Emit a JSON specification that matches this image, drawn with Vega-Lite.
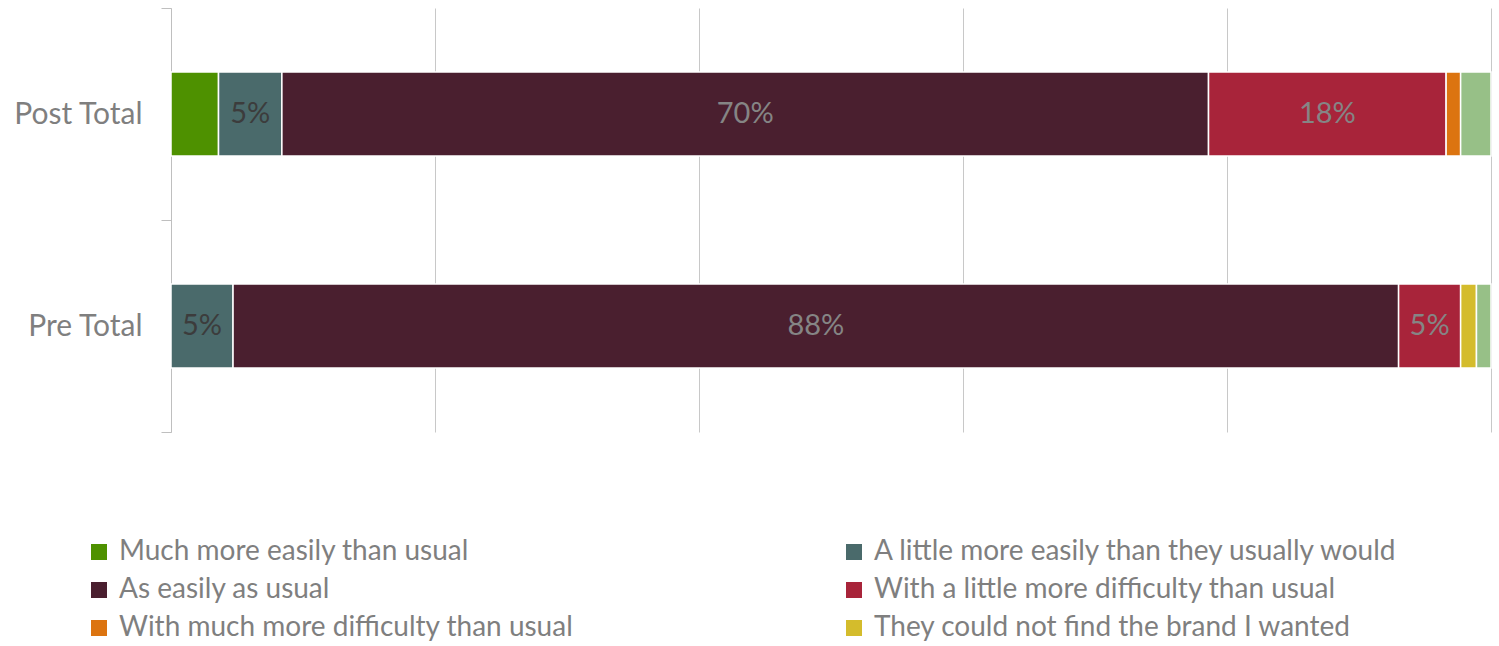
{
  "$schema": "https://vega.github.io/schema/vega-lite/v6.json",
  "width": 1320,
  "height": 424,
  "autosize": {"type": "none"},
  "padding": {"left": 171, "top": 8, "right": 8, "bottom": 214},
  "background": "white",
  "config": {"view": {"stroke": null}, "font": "Lato"},
  "data": {
    "values": [
      {"g": "Post Total", "c": "Much more easily than usual", "k": 1, "v": 0.036},
      {"g": "Post Total", "c": "A little more easily than they usually would", "k": 2, "v": 0.048},
      {"g": "Post Total", "c": "As easily as usual", "k": 3, "v": 0.702},
      {"g": "Post Total", "c": "With a little more difficulty than usual", "k": 4, "v": 0.180},
      {"g": "Post Total", "c": "With much more difficulty than usual", "k": 5, "v": 0.011},
      {"g": "Post Total", "c": "Other", "k": 7, "v": 0.023},
      {"g": "Pre Total", "c": "A little more easily than they usually would", "k": 2, "v": 0.047},
      {"g": "Pre Total", "c": "As easily as usual", "k": 3, "v": 0.883},
      {"g": "Pre Total", "c": "With a little more difficulty than usual", "k": 4, "v": 0.047},
      {"g": "Pre Total", "c": "They could not find the brand I wanted", "k": 6, "v": 0.012},
      {"g": "Pre Total", "c": "Other", "k": 7, "v": 0.011}
    ]
  },
  "encoding": {
    "y": {
      "field": "g", "type": "nominal", "title": null,
      "sort": ["Post Total", "Pre Total"],
      "scale": {"paddingInner": 0, "paddingOuter": 0},
      "axis": {
        "tickBand": "extent", "domainColor": "#bfbfbf", "tickColor": "#bfbfbf",
        "tickSize": 10, "labelPadding": 19, "labelFontSize": 30, "labelColor": "#7f7f7f",
        "labelFont": "Lato", "grid": false
      }
    },
    "x": {
      "field": "v", "type": "quantitative", "stack": "zero",
      "scale": {"domain": [0, 1]},
      "axis": {"values": [0, 0.2, 0.4, 0.6, 0.8, 1], "grid": true, "gridColor": "#c8c8c8",
        "domain": false, "ticks": false, "labels": false, "title": null}
    },
    "order": {"field": "k", "type": "quantitative"}
  },
  "layer": [
    {
      "mark": {"type": "bar", "stroke": "white", "strokeWidth": 1.5, "height": {"band": 0.396}},
      "encoding": {
        "color": {
          "field": "c", "type": "nominal",
          "scale": {
            "domain": ["Much more easily than usual", "A little more easily than they usually would", "As easily as usual", "With a little more difficulty than usual", "With much more difficulty than usual", "They could not find the brand I wanted", "Other"],
            "range": ["#4e9100", "#4a6a6b", "#4a1f2f", "#a8243a", "#dc7410", "#d4bc2c", "#97c087"]
          },
          "legend": {
            "title": null, "orient": "none", "legendX": -86, "legendY": 530,
            "columns": 2, "columnPadding": 266, "rowPadding": 10,
            "values": ["Much more easily than usual", "As easily as usual", "With much more difficulty than usual", "A little more easily than they usually would", "With a little more difficulty than usual", "They could not find the brand I wanted"],
            "symbolType": "square", "symbolSize": 256, "symbolStrokeWidth": 0,
            "labelFontSize": 28, "labelColor": "#7f7f7f", "labelFont": "Lato",
            "labelOffset": 6, "labelLimit": 800
          }
        }
      }
    },
    {
      "mark": {"type": "text", "fontSize": 29, "font": "Lato"},
      "encoding": {
        "x": {"field": "v", "type": "quantitative", "stack": "zero", "bandPosition": 0.5},
        "text": {
          "condition": {"test": "datum.v < 0.045", "value": ""},
          "field": "v", "type": "quantitative", "format": ".0%"
        },
        "color": {
          "condition": {"test": "datum.k === 2", "value": "#3c3c3c"},
          "value": "#858585"
        }
      }
    }
  ]
}
